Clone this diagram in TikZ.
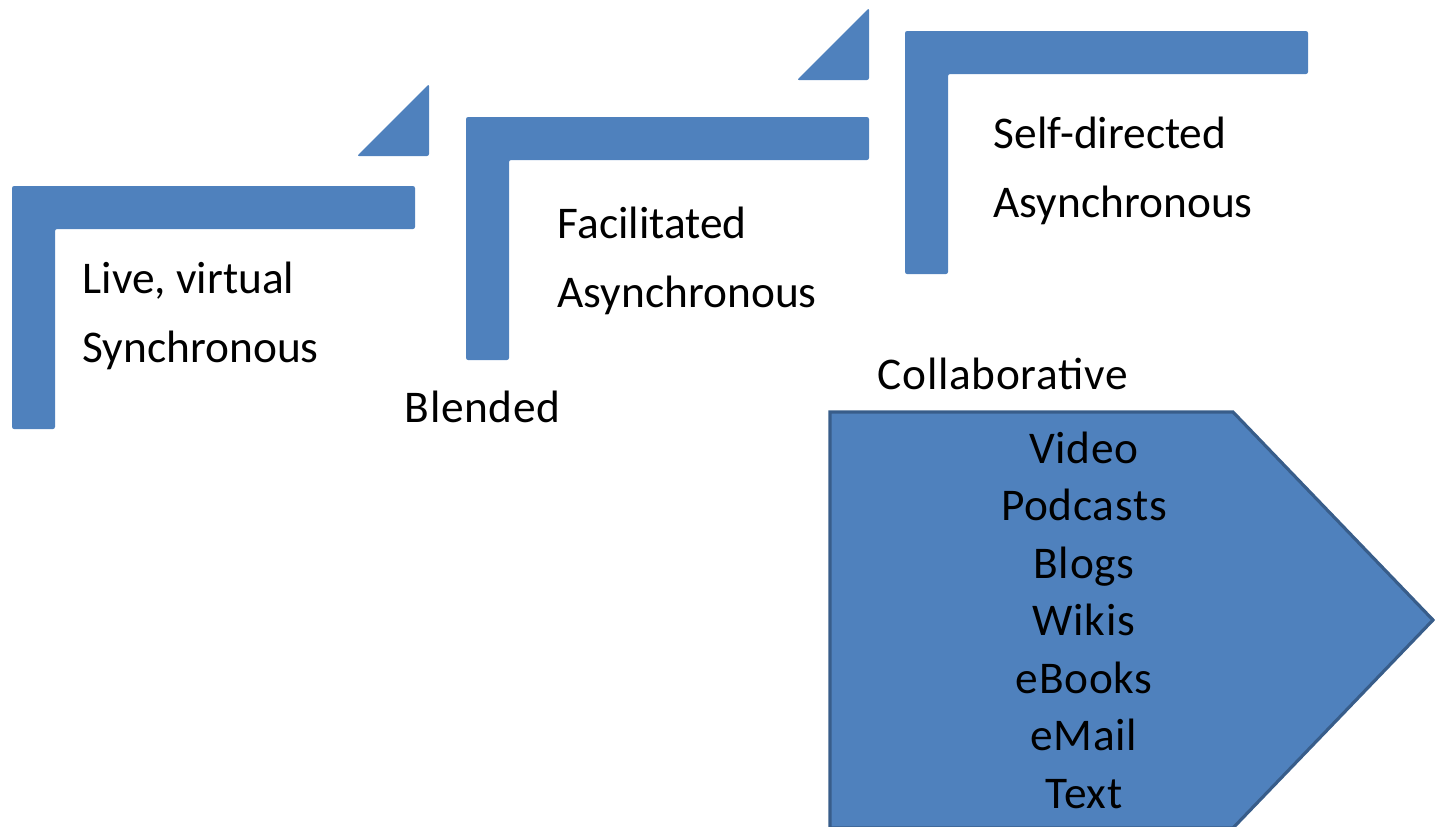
\documentclass[tikz,border=0pt]{standalone}
\usepackage{fontspec}
\setmainfont{Carlito}
\usepackage{tikz}
\definecolor{stepblue}{HTML}{4F81BD}
\definecolor{edgeblue}{HTML}{385D8A}
\newcommand{\lblfont}{\fontsize{12.9}{15}\selectfont}
\newcommand{\widefont}{\fontsize{12.9}{15}\selectfont\addfontfeature{LetterSpace=1.5}}
\tikzset{
  stepshape/.style={fill=stepblue, rounded corners=0.6pt},
  lbl/.style={inner sep=0pt, anchor=base west, font=\lblfont},
  widelbl/.style={lbl, font=\widefont},
  item/.style={inner sep=0pt, anchor=base, font=\widefont}
}

\begin{document}
\begin{tikzpicture}[x=0.01cm,y=-0.01cm]
\useasboundingbox (0,0) rectangle (1435,827);
% the three steps
\foreach \x/\y in {12/186, 466/117, 905/31} {
\fill[stepshape] (\x,\y) -- ++(403,0) -- ++(0,43) -- ++(-360,0) -- ++(0,200) -- ++(-43,0) -- cycle;
}
% small wedges between the steps
\fill[stepshape] (357,156) -- (429,156) -- (429,84) -- cycle;
\fill[stepshape] (797,80) -- (869,80) -- (869,8) -- cycle;
% labels
\node[lbl] (live) at (82,293) {Live, virtual};
\node[lbl] (sync) at (82,362) {Synchronous};
\node[lbl] (facil) at (557,238) {Facilitated};
\node[lbl] (async1) at (557,307) {Asynchronous};
\node[lbl] (self) at (993,148) {Self-directed};
\node[lbl] (async2) at (993,217) {Asynchronous};
\node[widelbl] (blended) at (404,422) {Blended};
\node[widelbl] (collab) at (877,389) {Collaborative};
% the pentagon with the media list
\filldraw[fill=stepblue, draw=edgeblue, line width=0.9pt]
  (830,412) -- (1233,412) -- (1433,620) -- (1233,828) -- (830,828) -- cycle;
\foreach \t [count=\i] in {Video,Podcasts,Blogs,Wikis,eBooks,eMail,Text} {
\node[item] (m\i) at (1084,{463+57.5*(\i-1)}) {\t};
}
\end{tikzpicture}
\end{document}
